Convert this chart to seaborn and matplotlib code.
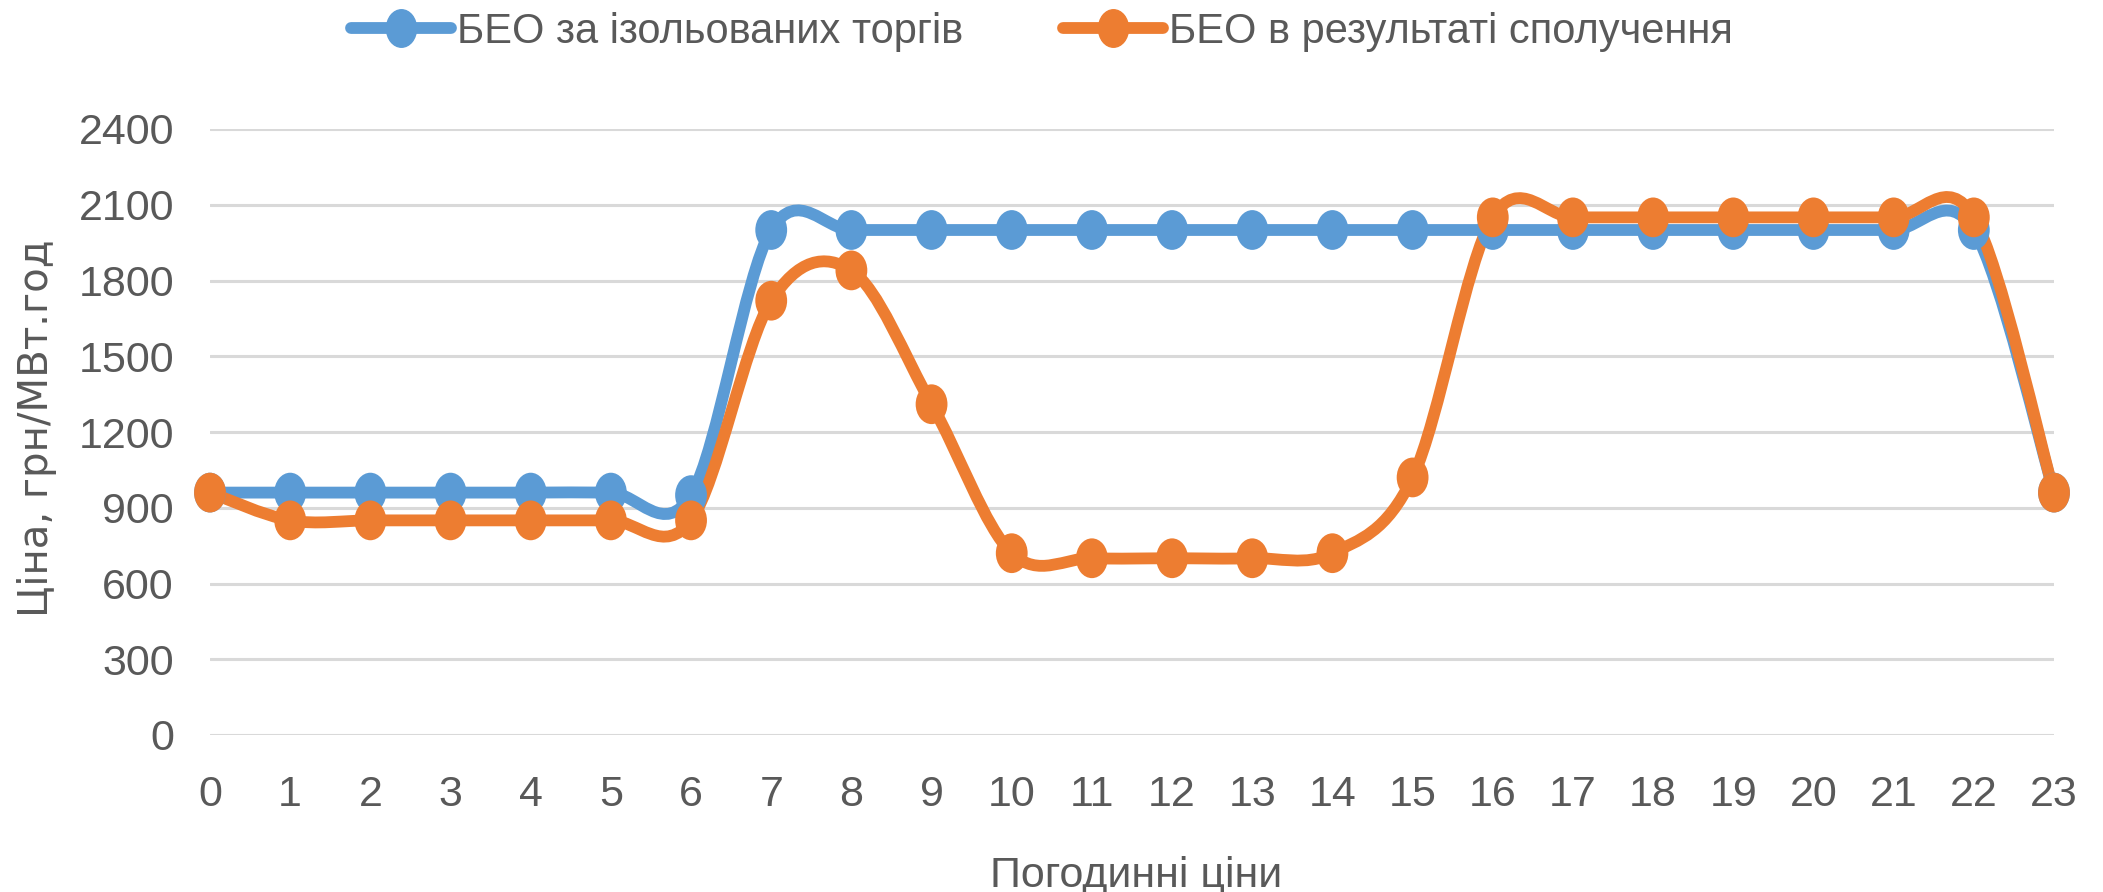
import numpy as np
import pandas as pd
import matplotlib
matplotlib.use("Agg")
import matplotlib.pyplot as plt
from matplotlib.path import Path
from matplotlib.patches import PathPatch
from matplotlib.lines import Line2D
import seaborn as sns

hours = list(range(24))
isolated = [960, 960, 960, 960, 960, 960, 950, 2000, 2000, 2000, 2000, 2000,
            2000, 2000, 2000, 2000, 2000, 2000, 2000, 2000, 2000, 2000, 2000, 960]
combined = [960, 850, 850, 850, 850, 850, 850, 1720, 1840, 1310, 720, 700,
            700, 700, 720, 1020, 2050, 2050, 2050, 2050, 2050, 2050, 2050, 960]
series_names = ["БЕО за ізольованих торгів", "БЕО в результаті сполучення"]
y_ticks = [0, 300, 600, 900, 1200, 1500, 1800, 2100, 2400]

COLORS = ["#5B9BD5", "#ED7D31"]
TEXT = "#595959"

sns.set_theme(style="white")
plt.rcParams["font.family"] = ["Liberation Sans", "DejaVu Sans"]


def smooth_path(x, y):
    # excel-like smoothed line: cubic bezier through the points (catmull-rom)
    pts = np.column_stack([x, y]).astype(float)
    verts = [pts[0]]
    codes = [Path.MOVETO]
    n = len(pts)
    for i in range(n - 1):
        p0 = pts[i - 1] if i > 0 else pts[i]
        p1, p2 = pts[i], pts[i + 1]
        p3 = pts[i + 2] if i + 2 < n else pts[i + 1]
        c1 = p1 + (p2 - p0) / 6.0
        c2 = p2 - (p3 - p1) / 6.0
        verts += [c1, c2, p2]
        codes += [Path.CURVE4] * 3
    return Path(verts, codes)


df = pd.DataFrame({
    "hour": hours * 2,
    "price": isolated + combined,
    "series": [series_names[0]] * 24 + [series_names[1]] * 24,
})

fig = plt.figure(figsize=(21.03, 8.92), dpi=100)
ax = fig.add_axes([210 / 2103, 1 - 735 / 892, (2054 - 210) / 2103, (735 - 129) / 892])

# elliptical marker like the stretched excel picture
ell = Path.unit_circle()
ell = Path(ell.vertices * np.array([0.8, 1.0]), ell.codes)

for name, vals, col in zip(series_names, [isolated, combined], COLORS):
    patch = PathPatch(smooth_path(hours, vals), facecolor="none", edgecolor=col,
                      lw=8.5, capstyle="round", joinstyle="round", clip_on=False, zorder=3)
    ax.add_patch(patch)

sns.scatterplot(data=df, x="hour", y="price", hue="series", palette=COLORS,
                marker=ell, s=820, linewidth=0, legend=False, ax=ax,
                clip_on=False, zorder=4)

ax.set_xlim(0, 23)
ax.set_ylim(0, 2400)
ax.set_yticks(y_ticks)
ax.set_xticks(hours)
ax.tick_params(axis="both", length=0, labelsize=31, labelcolor=TEXT)
ax.tick_params(axis="x", pad=29)
ax.tick_params(axis="y", pad=26)
ax.grid(axis="y", color="#D9D9D9", lw=2.2)
for s in ax.spines.values():
    s.set_visible(False)

ax.set_xlabel("Погодинні ціни", fontsize=31, color=TEXT)
ax.xaxis.label.set_va("center")
ax.xaxis.set_label_coords(0.502, -0.232)
ax.set_ylabel("Ціна, грн/МВт.год", fontsize=29, color=TEXT, family="DejaVu Sans")
ax.yaxis.label.set_va("center")
ax.yaxis.set_label_coords(-0.094, 0.507)

handles = [Line2D([0], [0], color=c, lw=8.5, marker=ell, markersize=27) for c in COLORS]
fig.legend(handles, series_names, loc="center", bbox_to_anchor=(1042 / 2103, 1 - 32 / 892),
           ncol=2, frameon=False, fontsize=30, labelcolor=TEXT, handlelength=2.4,
           handletextpad=0.15, columnspacing=2.4)

fig.savefig("out.png", dpi=100)
